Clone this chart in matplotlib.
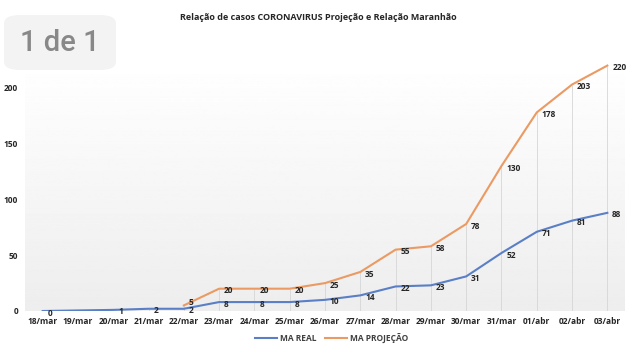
import numpy as np
import matplotlib
matplotlib.use("Agg")
import matplotlib.pyplot as plt
from matplotlib.patches import FancyBboxPatch
from matplotlib.lines import Line2D

# Daily case counts for Maranhão
dates = ["18/mar", "19/mar", "20/mar", "21/mar", "22/mar", "23/mar", "24/mar",
         "25/mar", "26/mar", "27/mar", "28/mar", "29/mar", "30/mar", "31/mar",
         "01/abr", "02/abr", "03/abr"]
ma_real = [0, None, 1, 2, 2, 8, 8, 8, 10, 14, 22, 23, 31, 52, 71, 81, 88]
ma_projecao = [None, None, None, None, 5, 20, 20, 20, 25, 35, 55, 58, 78,
               130, 178, 203, 220]
y_ticks = [0, 50, 100, 150, 200]

title = "Relação de casos CORONAVIRUS Projeção e Relação Maranhão"
badge_text = "1 de 1"

blue = "#5a7fc6"
orange = "#ea9a62"
font = "Open Sans"
txt = "#262626"

W, H = 636, 345
fig = plt.figure(figsize=(W / 100, H / 100), dpi=100)
fig.patch.set_facecolor("white")

# plot area in pixel coordinates
left_px, right_px, bottom_px, top_px = 25, 625, 311, 60
ax = fig.add_axes([left_px / W, 1 - bottom_px / H,
                   (right_px - left_px) / W, (bottom_px - top_px) / H])

x = np.arange(len(dates))
ymax = 225
ax.set_xlim(-0.5, len(dates) - 0.5)
ax.set_ylim(0, ymax)

# vertical white-to-grey gradient behind the plot
grad = np.linspace(1.0, 0.93, 256).reshape(-1, 1)
ax.imshow(grad, cmap="gray", vmin=0, vmax=1, aspect="auto",
          extent=(-0.5, len(dates) - 0.5, 0, ymax), origin="upper", zorder=0)

real = np.array([np.nan if v is None else v for v in ma_real], dtype=float)
proj = np.array([np.nan if v is None else v for v in ma_projecao], dtype=float)

# drop lines from the highest series down to the axis
tops = np.fmax(real, proj)
ax.vlines(x, 0, tops, colors="#d6d6d6", linewidth=0.6, zorder=1)

mr = ~np.isnan(real)
mp = ~np.isnan(proj)
ax.plot(x[mr], real[mr], color=blue, linewidth=1.5, zorder=3)
ax.plot(x[mp], proj[mp], color=orange, linewidth=1.5, zorder=3)

label_kw = dict(textcoords="offset points", ha="left", va="center",
                fontsize=6, fontweight="bold", family=font, color=txt, zorder=4)

# value labels to the right of each point
for xi, v in zip(x[mr], real[mr]):
    ax.annotate(f"{int(v)}", (xi, v), xytext=(3.5, -1.5), **label_kw)
for i, (xi, v) in enumerate(zip(x[mp], proj[mp])):
    dy = 2 if i == 0 else -1.5
    ax.annotate(f"{int(v)}", (xi, v), xytext=(3.5, dy), **label_kw)

ax.set_xticks(x)
ax.set_xticklabels(dates, fontsize=6, fontweight="bold", family=font, color=txt)
ax.set_yticks(y_ticks)
ax.set_yticklabels([str(t) for t in y_ticks], fontsize=6, fontweight="bold",
                   family=font, color=txt)
ax.tick_params(axis="both", length=0)
ax.tick_params(axis="x", pad=4)
ax.tick_params(axis="y", pad=5)
for s in ax.spines.values():
    s.set_visible(False)

fig.text(318 / W, 1 - 17 / H, title, ha="center", va="center", fontsize=6.5,
         fontweight="bold", family=font, color=txt)

# legend
handles = [Line2D([], [], color=blue, linewidth=1.5),
           Line2D([], [], color=orange, linewidth=1.5)]
fig.legend(handles, ["MA REAL", "MA PROJEÇÃO"], loc="center",
           bbox_to_anchor=(332 / W, 1 - 338 / H), ncol=2, frameon=False,
           prop={"family": font, "weight": "bold", "size": 6},
           handlelength=2.6, handletextpad=0.4, columnspacing=1.0,
           labelcolor="#404040")

# page badge in the top-left corner
badge = FancyBboxPatch((4 / W, 1 - 70 / H), 112 / W, 55 / H,
                       boxstyle="round,pad=0,rounding_size=0.025",
                       transform=fig.transFigure, facecolor="#f3f3f3",
                       edgecolor="none", zorder=5)
fig.patches.append(badge)
fig.text(60 / W, 1 - 43 / H, badge_text, ha="center", va="center",
         fontsize=21, family="Roboto", fontweight="medium", color="#888888",
         zorder=6)

fig.savefig("out.png", dpi=100, facecolor="white")
